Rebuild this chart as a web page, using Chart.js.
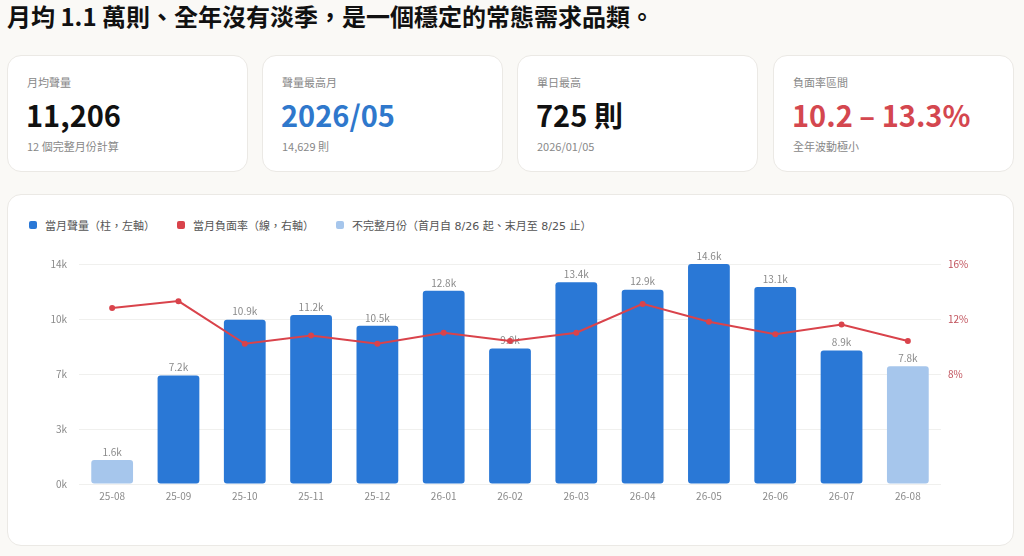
<!DOCTYPE html>
<html lang="zh-Hant">
<head>
<meta charset="utf-8">
<script src="https://cdn.jsdelivr.net/npm/chart.js@4.4.1/dist/chart.umd.min.js"></script>
<style>
  html, body { margin: 0; padding: 0; }
  body {
    width: 1024px; height: 556px; overflow: hidden; position: relative;
    background: #faf9f6;
    font-family: "Noto Sans CJK TC", "Noto Sans", sans-serif;
    color: #111;
  }
  h1 {
    position: absolute; left: 7px; top: 0; margin: 0;
    font-size: 24px; line-height: 32px; font-weight: 700; letter-spacing: 0;
  }
  .kpi {
    position: absolute; top: 55px; width: 241px; height: 117px;
    box-sizing: border-box; background: #fff;
    border: 1px solid #ebe9e5; border-radius: 14px;
  }
  .kpi .lab { position: absolute; left: 19px; top: 18px; font-size: 11px; line-height: 16px; color: #888; }
  .kpi .val { position: absolute; left: 18px; top: 37px; font-size: 29px; line-height: 42px; font-weight: 700; }
  .kpi .sub { position: absolute; left: 19px; top: 82px; font-size: 11px; line-height: 16px; color: #888; }
  .blue { color: #2f78cc; }
  .red { color: #d4474f; }
  .panel {
    position: absolute; left: 7px; top: 194px; width: 1007px; height: 352px;
    box-sizing: border-box; background: #fff;
    border: 1px solid #ebe9e5; border-radius: 14px;
  }
  .legend {
    position: absolute; left: 29px; top: 217px; height: 16px;
    display: flex; align-items: center; font-size: 11px; color: #555;
    font-family: "DejaVu Sans", "Noto Sans CJK TC", sans-serif;
  }
  .legend span { display: flex; align-items: center; margin-right: 22px; }
  .legend i { display: inline-block; width: 8px; height: 8px; border-radius: 2px; margin-right: 8px; }
  #wrap { position: absolute; left: 20px; top: 246px; width: 980px; height: 274px; }
</style>
</head>
<body>
<h1>月均 1.1 萬則、全年沒有淡季，是一個穩定的常態需求品類。</h1>

<div class="kpi" style="left:7px">
  <div class="lab">月均聲量</div>
  <div class="val">11,206</div>
  <div class="sub">12 個完整月份計算</div>
</div>
<div class="kpi" style="left:262px">
  <div class="lab">聲量最高月</div>
  <div class="val blue">2026/05</div>
  <div class="sub">14,629 則</div>
</div>
<div class="kpi" style="left:517px">
  <div class="lab">單日最高</div>
  <div class="val">725 則</div>
  <div class="sub">2026/01/05</div>
</div>
<div class="kpi" style="left:773px">
  <div class="lab">負面率區間</div>
  <div class="val red">10.2 – 13.3%</div>
  <div class="sub">全年波動極小</div>
</div>

<div class="panel"></div>
<div class="legend">
  <span><i style="background:#2a78d6"></i>當月聲量（柱，左軸）</span>
  <span><i style="background:#d9434b"></i>當月負面率（線，右軸）</span>
  <span><i style="background:#a6c6ec"></i>不完整月份（首月自 8/26 起、末月至 8/25 止）</span>
</div>
<div id="wrap"><canvas id="c"></canvas></div>

<script>
// 月份（YY-MM）
const months = ['25-08','25-09','25-10','25-11','25-12','26-01','26-02','26-03','26-04','26-05','26-06','26-07','26-08'];
// 當月聲量（則）
const volume = [1600, 7210, 10930, 11230, 10520, 12850, 9010, 13420, 12920, 14629, 13100, 8880, 7830];
// 當月負面率（%）
const negRate = [12.8, 13.3, 10.2, 10.8, 10.2, 11.0, 10.4, 11.0, 13.1, 11.8, 10.9, 11.6, 10.4];
// 不完整月份（首尾）
const partial = [true, false, false, false, false, false, false, false, false, false, false, false, true];
// 右軸刻度
const rateTicks = [0, 4, 8, 12, 16];

const BLUE = '#2a78d6', LIGHT = '#a6c6ec', RED = '#d9434b';
const volMax = Math.max(...volume);

// 柱頂數值標籤（畫在線之前，所以會被線蓋住）
const barLabels = {
  id: 'barLabels',
  afterDatasetDraw(chart, args) {
    if (args.meta.type !== 'bar') return;
    const ctx = chart.ctx;
    ctx.save();
    ctx.font = '10px "Noto Sans CJK TC", sans-serif';
    ctx.fillStyle = '#8a8a8a';
    ctx.textAlign = 'center';
    ctx.textBaseline = 'bottom';
    args.meta.data.forEach((bar, i) => {
      ctx.fillText((volume[i] / 1000).toFixed(1) + 'k', bar.x, bar.y - 3);
    });
    ctx.restore();
  }
};

new Chart(document.getElementById('c'), {
  data: {
    labels: months,
    datasets: [
      {
        type: 'line',
        label: '當月負面率',
        data: negRate,
        yAxisID: 'y1',
        order: 0,
        borderColor: RED,
        backgroundColor: RED,
        pointBackgroundColor: RED,
        borderWidth: 2,
        pointRadius: 3,
        pointBorderWidth: 0,
        tension: 0
      },
      {
        type: 'bar',
        label: '當月聲量',
        data: volume,
        yAxisID: 'y',
        order: 1,
        backgroundColor: partial.map(p => p ? LIGHT : BLUE),
        borderRadius: 3,
        borderSkipped: false,
        barPercentage: 0.63,
        categoryPercentage: 1
      }
    ]
  },
  options: {
    responsive: true,
    maintainAspectRatio: false,
    animation: false,
    layout: { padding: { top: 10, bottom: 0, left: 0, right: 0 } },
    plugins: { legend: { display: false }, tooltip: { enabled: false } },
    font: { family: '"Noto Sans CJK TC", sans-serif' },
    scales: {
      x: {
        grid: { display: false, drawTicks: false },
        border: { display: false },
        ticks: { color: '#8a8a8a', font: { size: 10 }, padding: 6, maxRotation: 0 },
        afterFit(s) { s.height = 36; }
      },
      y: {
        position: 'left',
        min: 0,
        max: volMax,
        grid: { color: '#f0f0ee', drawTicks: false },
        border: { display: false },
        afterBuildTicks(s) { s.ticks = [0, 1, 2, 3, 4].map(k => ({ value: volMax * k / 4 })); },
        ticks: {
          color: '#8a8a8a', font: { size: 10 }, padding: 12,
          callback: v => Math.floor(v / 1000) + 'k'
        },
        afterFit(s) { s.width = 59; }
      },
      y1: {
        position: 'right',
        min: 0,
        max: 16,
        grid: { drawOnChartArea: false, drawTicks: false },
        border: { display: false },
        afterBuildTicks(s) { s.ticks = rateTicks.map(v => ({ value: v })); },
        ticks: {
          color: '#c0505a', font: { size: 10 }, padding: 7,
          callback: v => v >= 8 ? v + '%' : ''
        },
        afterFit(s) { s.width = 59; }
      }
    }
  },
  plugins: [barLabels]
});
</script>
</body>
</html>
